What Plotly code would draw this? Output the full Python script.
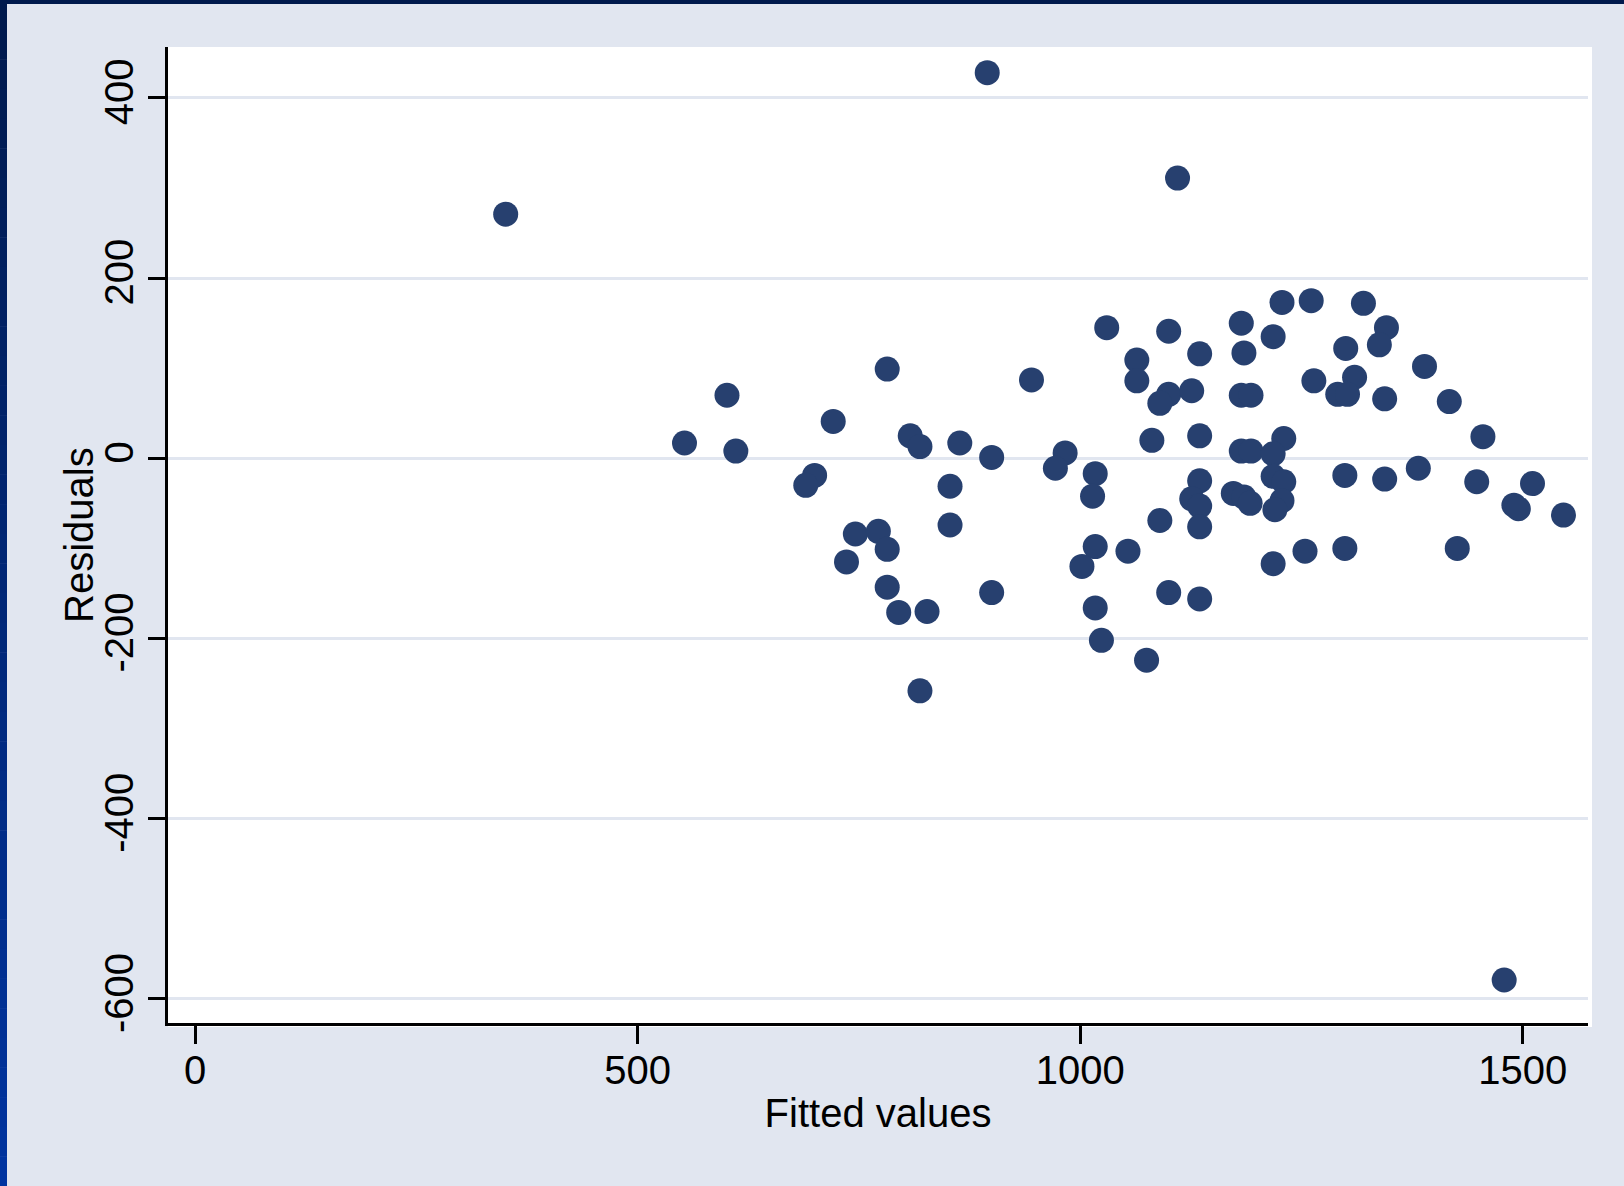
import plotly.graph_objects as go

# Data (fitted values vs residuals)
fitted = [553, 601, 611, 721, 782, 945, 808, 819, 864, 900, 700, 690, 853, 853, 746, 772, 782, 736, 782, 795, 827, 900, 819,
          1030, 1100, 1064, 1064, 1135, 1182, 1185, 1218, 1228, 1261, 1264,
          1100, 1090, 1126, 1182, 1193, 1081, 1135, 983, 972, 1017, 1014, 1135, 1182, 1193,
          1230, 1218, 1218, 1230, 1228, 1220, 1173, 1185, 1192, 1126, 1135, 1135, 1090, 1017, 1002, 1054, 1218, 1254,
          1100, 1135, 1017, 1024, 1075,
          1320, 1346, 1338, 1300, 1389, 1310, 1291, 1302, 1344, 1417, 1455, 1299, 1344, 1382, 1448, 1511, 1490, 1495,
          1546, 1426, 1299,
          351, 895, 1110, 1479]
residuals = [17, 70, 8, 41, 99, 87, 25, 13, 17, 1, -19, -30, -31, -74, -84, -81, -101, -115, -143, -171, -170, -149, -258,
             145, 141, 109, 86, 116, 150, 117, 135, 173, 175, 86,
             71, 61, 75, 70, 70, 20, 25, 6, -11, -17, -42, -25, 8, 8,
             22, 5, -20, -26, -47, -57, -39, -43, -50, -45, -53, -76, -69, -98, -120, -103, -117, -103,
             -149, -156, -166, -202, -224,
             172, 145, 126, 122, 102, 90, 71, 71, 66, 63, 24, -19, -23, -11, -26, -28, -52, -56,
             -63, -100, -100,
             271, 428, 311, -579]

x_ticks = [0, 500, 1000, 1500]
y_ticks = [-600, -400, -200, 0, 200, 400]
x_title = "Fitted values"
y_title = "Residuals"

W, H = 1624, 1186
ML, MR, MT, MB = 168, 36, 47, 163
PW, PH = W - ML - MR, H - MT - MB

def px_x(p):
    return (p - ML) / PW

def px_y(p):
    return (H - MB - p) / PH

FONT = "Liberation Sans, Arial, Helvetica, sans-serif"
BG = "#e1e6f0"

fig = go.Figure()
fig.add_trace(go.Scatter(
    x=fitted, y=residuals, mode="markers",
    marker=dict(size=25, color="#27406f", line=dict(width=0)),
    hoverinfo="x+y", showlegend=False,
))

shapes = []
# white plot region slightly extends beyond the axes (right and bottom)
shapes.append(dict(type="rect", xref="paper", yref="paper",
                   x0=0, x1=px_x(ML + PW + 4), y0=px_y(H - MB + 4), y1=1,
                   fillcolor="white", line=dict(width=0), layer="below"))
# top dark band
shapes.append(dict(type="rect", xref="paper", yref="paper",
                   x0=px_x(0), x1=px_x(W), y0=px_y(4), y1=px_y(0),
                   fillcolor="#001a4d", line=dict(width=0), layer="above"))
# left gradient band
n = 40
c0 = (0, 26, 77)
c1 = (0, 52, 160)
for i in range(n):
    t = i / (n - 1)
    col = "rgb(%d,%d,%d)" % tuple(int(c0[k] + (c1[k] - c0[k]) * t) for k in range(3))
    shapes.append(dict(type="rect", xref="paper", yref="paper",
                       x0=px_x(0), x1=px_x(7),
                       y0=px_y(H * (i + 1) / n + 0.5), y1=px_y(H * i / n),
                       fillcolor=col, line=dict(width=0), layer="above"))

fig.update_layout(
    width=W, height=H,
    margin=dict(l=ML, r=MR, t=MT, b=MB, pad=0),
    paper_bgcolor=BG, plot_bgcolor="white",
    font=dict(family=FONT, size=40, color="black"),
    shapes=shapes,
    annotations=[dict(
        text=y_title, xref="paper", yref="paper",
        x=px_x(79), y=px_y(535), xanchor="center", yanchor="middle",
        textangle=-90, showarrow=False,
        font=dict(family=FONT, size=40, color="black"),
    )],
    xaxis=dict(
        range=[-30.5, 1573.7], tickvals=x_ticks, ticktext=[str(v) for v in x_ticks],
        showgrid=False, zeroline=False,
        showline=True, linecolor="black", linewidth=3,
        ticks="outside", ticklen=18, tickwidth=3, tickcolor="black",
        ticklabelstandoff=-8,
        tickfont=dict(family=FONT, size=40, color="black"),
        title=dict(text=x_title, font=dict(family=FONT, size=40, color="black"), standoff=8),
    ),
    yaxis=dict(
        range=[-626.7, 456.5], tickvals=y_ticks, ticktext=[str(v) for v in y_ticks],
        showgrid=True, gridcolor=BG, gridwidth=3, zeroline=False,
        showline=True, linecolor="black", linewidth=3,
        ticks="outside", ticklen=17, tickwidth=3, tickcolor="black",
        tickangle=-90, ticklabelstandoff=-1,
        tickfont=dict(family=FONT, size=40, color="black"),
    ),
)

fig.write_html(
    "out.html",
    config={"displayModeBar": False},
    post_script="document.body.style.margin='0';document.body.style.overflow='hidden';",
)
